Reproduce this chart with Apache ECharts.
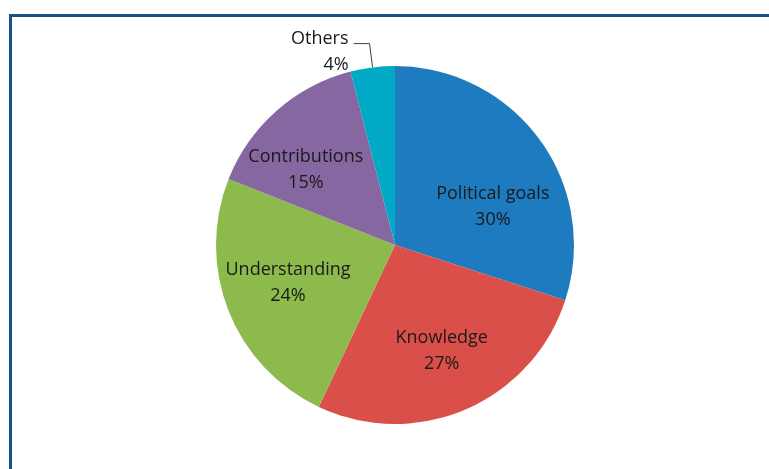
<!DOCTYPE html>
<html>
<head>
<meta charset="utf-8">
<script src="https://cdn.jsdelivr.net/npm/echarts@6/dist/echarts.min.js"></script>
<style>
html,body{margin:0;padding:0;background:#fff;}
#chart{width:769px;height:469px;}
</style>
</head>
<body>
<div id="chart"></div>
<script>
const categories = ['Political goals', 'Knowledge', 'Understanding', 'Contributions', 'Others'];
const values = [30, 27, 24, 15, 4];
const colors = ['#1F7BBF', '#DA4F49', '#8CBA4C', '#8767A2', '#00A9C6'];

const labelShift = [[23, 16], [10, 21], [-21, 4], [-28, -6], [0, 8]];

const chart = echarts.init(document.getElementById('chart'), null, {renderer: 'canvas'});
const data = categories.map((name, i) => {
  const item = {name: name, value: values[i], itemStyle: {color: colors[i]}};
  if (name === 'Others') {
    item.label = {position: 'outside'};
    item.labelLine = {show: true, length: 24, length2: 16, lineStyle: {color: '#404040', width: 1}};
  } else {
    item.label = {position: 'inside'};
    item.labelLine = {show: false};
  }
  return item;
});

chart.setOption({
  animation: false,
  backgroundColor: '#ffffff',
  graphic: [{
    type: 'rect',
    shape: {x: 10.5, y: 15.5, width: 900, height: 600},
    style: {fill: 'none', stroke: '#1B4F8B', lineWidth: 3},
    silent: true
  }],
  series: [{
    type: 'pie',
    center: [395, 245],
    radius: 179,
    startAngle: 90,
    clockwise: true,
    avoidLabelOverlap: false,
    data: data,
    itemStyle: {borderWidth: 0},
    label: {
      show: true,
      formatter: p => p.name + '\n' + Math.round(p.percent) + '%',
      fontFamily: 'Open Sans',
      fontSize: 18,
      lineHeight: 26,
      color: '#1a1a1a',
      align: 'center'
    },
    labelLayout: function (params) {
      const s = labelShift[params.dataIndex];
      return {dx: s[0], dy: s[1]};
    },
    emphasis: {disabled: true}
  }]
});
</script>
</body>
</html>
